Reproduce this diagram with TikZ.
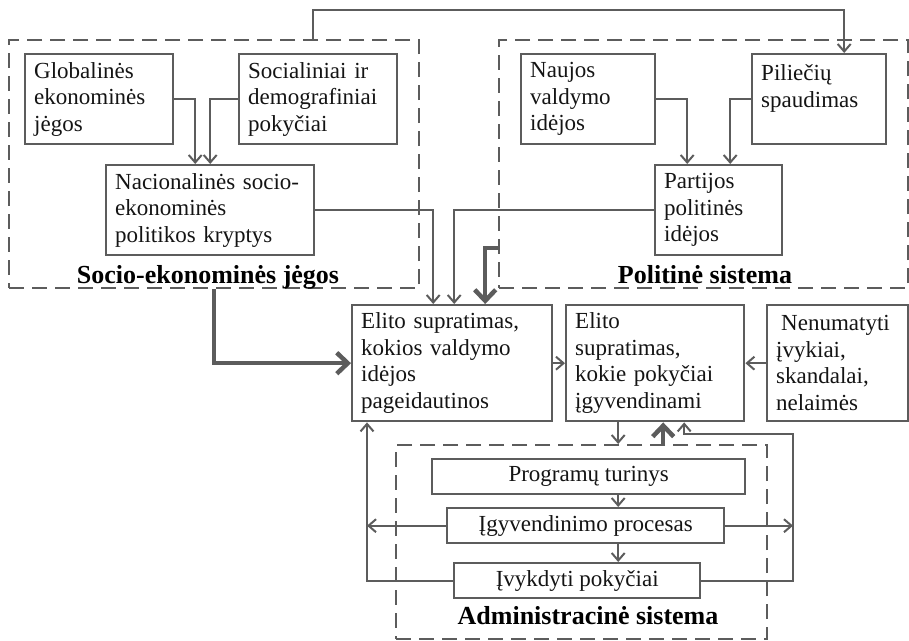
\documentclass[tikz,border=0pt]{standalone}
\usepackage{fontspec}
\setmainfont{Liberation Serif}
\usetikzlibrary{arrows.meta}
\definecolor{linegray}{HTML}{5C5C5C}
\definecolor{inkblack}{HTML}{141414}
\tikzset{
  box/.style={draw=linegray, line width=2.4pt, anchor=north west, text=inkblack,
    inner xsep=9pt, inner ysep=0pt, align=left,
    font=\fontsize{23}{26.5}\selectfont},
  cbox/.style={box, align=center, inner xsep=0pt},
  group/.style={draw=linegray, line width=2pt, dash pattern=on 15pt off 8pt,
    inner sep=0pt, anchor=north west},
  conn/.style={draw=linegray, line width=2pt,
    -{Straight Barb[length=7.5pt,width=13pt,line width=2pt]}},
  heavy/.style={draw=linegray, line width=4.5pt,
    -{Straight Barb[length=11pt,width=21pt,line width=4.5pt]}},
  grouplabel/.style={font=\bfseries\fontsize{26}{30}\selectfont, text=black,
    anchor=base, inner sep=0pt},
}
\begin{document}
\begin{tikzpicture}[x=1pt,y=-1pt]
\useasboundingbox (0,0) rectangle (909,640);

% dashed group frames
\node[group, minimum width=410pt, minimum height=248pt] (soc) at (8,39) {};
\node[group, minimum width=409pt, minimum height=248pt] (pol) at (498,39) {};
\node[group, minimum width=371pt, minimum height=194pt] (adm) at (395,444) {};

% socio-economic forces
\node[box, minimum width=148pt, minimum height=90pt, text width=130pt] (glob) at (24,53)
  {Globalinės\\ekonominės\\jėgos};
\node[box, minimum width=158pt, minimum height=90pt, text width=140pt] (socd) at (238,53)
  {Socialiniai ir\\demografiniai\\pokyčiai};
\node[box, minimum width=208pt, minimum height=90pt, text width=190pt] (nac) at (105,164)
  {Nacionalinės socio-\\ekonominės\\politikos kryptys};

% political system
\node[box, minimum width=134pt, minimum height=90pt, text width=116pt] (nauj) at (520,53)
  {Naujos\\valdymo\\idėjos};
\node[box, minimum width=134pt, minimum height=90pt, text width=116pt] (pil) at (751,53)
  {Piliečių\\spaudimas\\\mbox{}};
\node[box, minimum width=127pt, minimum height=90pt, text width=109pt] (part) at (654,164)
  {Partijos\\politinės\\idėjos};

% elite perception and events
\node[box, minimum width=200pt, minimum height=116pt, text width=182pt] (el1) at (351,304)
  {Elito supratimas,\\kokios valdymo\\idėjos\\pageidautinos};
\node[box, minimum width=178pt, minimum height=116pt, text width=160pt] (el2) at (565,304)
  {Elito\\supratimas,\\kokie pokyčiai\\įgyvendinami};
\node[box, minimum width=141pt, minimum height=116pt, text width=123pt] (nen) at (766,304)
  {\hspace*{5pt}Nenumatyti\\įvykiai,\\skandalai,\\nelaimės};

% administrative system
\node[cbox, minimum width=313pt, minimum height=35pt] (prog) at (431,458) {Programų turinys};
\node[cbox, minimum width=277pt, minimum height=35pt] (igy) at (446,507) {Įgyvendinimo procesas};
\node[cbox, minimum width=246pt, minimum height=35pt] (ivy) at (453,562) {Įvykdyti pokyčiai};

% group captions
\node[grouplabel] (soclab) at (208,283) {Socio-ekonominės jėgos};
\node[grouplabel] (pollab) at (705,283) {Politinė sistema};
\node[grouplabel] (admlab) at (588,624) {Administracinė sistema};

% rails of the feedback loops
\coordinate (lrail) at (367,0);
\coordinate (rtop) at (793,434);

% connectors inside the groups
\draw[conn] (glob.east) -| ([xshift=-15pt]nac.north);
\draw[conn] (socd.west) -| (nac.north);
\draw[conn] (nauj.east) -| ([xshift=-31.5pt]part.north);
\draw[conn] (pil.west) -| ([xshift=11.5pt]part.north);
\draw[conn] ([xshift=-5pt]soc.north -| socd.north) -- ++(0,-29) -| ([xshift=25pt]pil.north);

% into the elite perception
\draw[conn] (nac.east) -| ([xshift=-19pt]el1.north);
\draw[conn] (part.west) -| ([xshift=2pt]el1.north);
\draw[heavy] ([yshift=-84pt]pol.west) -| ([xshift=33pt]el1.north);
\draw[heavy] (soc.south) |- (el1.west);
\draw[conn] (el1.east) -- (el2.west);
\draw[conn] (nen.west) -- (el2.east);

% between elite and administration
\draw[conn] ([xshift=-37pt]el2.south) -- ([xshift=-37pt]el2.south |- adm.north);
\draw[heavy] ([xshift=8pt]el2.south |- adm.north) -- ([xshift=8pt]el2.south);
\draw[conn] ([xshift=29.5pt]prog.south) -- ([xshift=29.5pt]prog.south |- igy.north);
\draw[conn] ([xshift=29.5pt]prog.south |- igy.south) -- ([xshift=29.5pt]prog.south |- ivy.north);

% feedback loops
\draw[conn] (igy.west) -- (igy.west -| lrail);
\draw[conn] (ivy.west) -| (el1.south -| lrail);
\draw[conn] (igy.east) -- (igy.east -| rtop);
\draw[conn] (ivy.east) -| (rtop) -| ([xshift=29pt]el2.south);
\end{tikzpicture}
\end{document}
